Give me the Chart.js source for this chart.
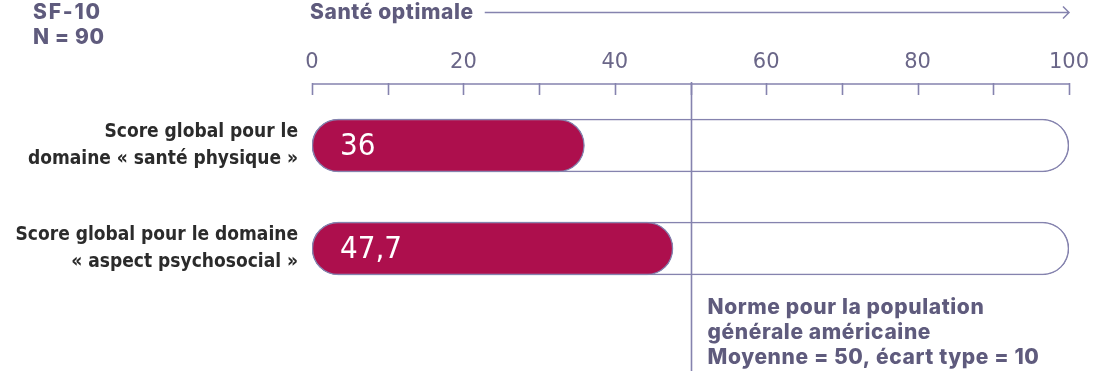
<!DOCTYPE html>
<html><head><meta charset="utf-8">
<script src="https://cdn.jsdelivr.net/npm/chart.js@4.4.1/dist/chart.umd.min.js"></script>
<style>html,body{margin:0;padding:0;background:#fff;}#wrap{width:1116px;height:390px;position:relative;}</style>
</head><body><div id="wrap"><canvas id="c" width="1116" height="390"></canvas></div>
<script>
const categories = [["Score global pour le","domaine « santé physique »"],["Score global pour le domaine","« aspect psychosocial »"]];
const values = [36, 47.7];
const valueLabels = ["36", "47,7"];
const trackValues = [100, 100];
const axisMin = 0, axisMax = 100, tickStep = 10, labelStep = 20;
const normValue = 50;
const titleLines = ["SF-10", "N = 90"];
const axisTitle = "Santé optimale";
const normLines = ["Norme pour la population", "générale américaine", "Moyenne = 50, écart type = 10"];

const PURPLE = "#8583ae", TEXT = "#5f5b7d", CRIMSON = "#ad0f4d";

const deco = {
  id: 'deco',
  beforeDatasetsDraw(chart) {
    const ctx = chart.ctx, x = chart.scales.x, ca = chart.chartArea;
    const yAxis = ca.top - 10;
    ctx.save();
    ctx.strokeStyle = PURPLE; ctx.lineWidth = 1.6;
    ctx.beginPath();
    ctx.moveTo(x.getPixelForValue(axisMin), yAxis);
    ctx.lineTo(x.getPixelForValue(axisMax), yAxis);
    for (let v = axisMin; v <= axisMax; v += tickStep) {
      const px = Math.round(x.getPixelForValue(v)) + 0.5;
      ctx.moveTo(px, yAxis - 1); ctx.lineTo(px, yAxis + 11);
    }
    ctx.stroke();
    ctx.restore();
  },
  afterDatasetsDraw(chart) {
    const ctx = chart.ctx, x = chart.scales.x, ca = chart.chartArea;
    const yAxis = ca.top - 10;
    ctx.save();
    const nx = Math.round(x.getPixelForValue(normValue)) + 0.5;
    ctx.strokeStyle = PURPLE; ctx.lineWidth = 1.6;
    ctx.beginPath(); ctx.moveTo(nx, yAxis - 2); ctx.lineTo(nx, 371); ctx.stroke();
    const meta = chart.getDatasetMeta(1);
    ctx.fillStyle = "#fff";
    ctx.font = "31px 'DejaVu Sans Condensed', 'DejaVu Sans', sans-serif";
    ctx.textBaseline = "middle"; ctx.textAlign = "left";
    meta.data.forEach((bar, i) => {
      ctx.fillText(valueLabels[i], x.getPixelForValue(axisMin) + 28, bar.y + 1);
    });
    ctx.fillStyle = TEXT;
    ctx.font = "800 21px Inter, 'Liberation Sans', sans-serif";
    ctx.letterSpacing = "0.6px";
    ctx.fillText(titleLines[1], 33, 38);
    ctx.letterSpacing = "1.8px";
    ctx.fillText(titleLines[0], 33, 13);
    ctx.letterSpacing = "0.6px";
    const ax0 = x.getPixelForValue(axisMin) - 2;
    ctx.fillText(axisTitle, ax0, 13);
    const tw = ctx.measureText(axisTitle).width;
    const ax1 = x.getPixelForValue(axisMax);
    ctx.strokeStyle = PURPLE; ctx.lineWidth = 1.5;
    ctx.beginPath();
    ctx.moveTo(ax0 + tw + 11, 12.5); ctx.lineTo(ax1, 12.5);
    ctx.moveTo(ax1 - 6, 6.5); ctx.lineTo(ax1, 12.5); ctx.lineTo(ax1 - 6, 18.5);
    ctx.stroke();
    normLines.forEach((t, i) => ctx.fillText(t, nx + 16, 308 + i * 25));
    ctx.restore();
  }
};

new Chart(document.getElementById('c'), {
  type: 'bar',
  data: {
    labels: categories,
    datasets: [
      { data: values, backgroundColor: CRIMSON, borderColor: PURPLE, borderWidth: 1.5,
        borderRadius: 27, borderSkipped: false, barThickness: 53, grouped: false, order: 1 },
      { data: trackValues, backgroundColor: "#fff", borderColor: PURPLE, borderWidth: 1.6,
        borderRadius: 27, borderSkipped: false, barThickness: 53, grouped: false, order: 2 }
    ]
  },
  options: {
    indexAxis: 'y',
    responsive: false,
    animation: false,
    layout: { padding: { left: 0, right: 47, top: 28, bottom: 90 } },
    plugins: { legend: { display: false }, tooltip: { enabled: false } },
    scales: {
      x: {
        position: 'top', min: axisMin, max: axisMax,
        grid: { display: false, drawTicks: false },
        border: { display: false },
        afterFit(s) { s.height = 66; },
        ticks: { stepSize: labelStep, padding: 19, color: "#6a6688",
          font: { family: "'DejaVu Sans', sans-serif", size: 21 }, maxRotation: 0 }
      },
      y: {
        grid: { display: false, drawTicks: false },
        border: { display: false },
        afterFit(s) { s.width = 312; },
        ticks: { padding: 14, color: "#2b2b2b",
          font: { family: "'DejaVu Sans Condensed', 'DejaVu Sans', sans-serif", size: 19, weight: 'bold', lineHeight: 1.42 } }
      }
    }
  },
  plugins: [deco]
});
</script></body></html>
